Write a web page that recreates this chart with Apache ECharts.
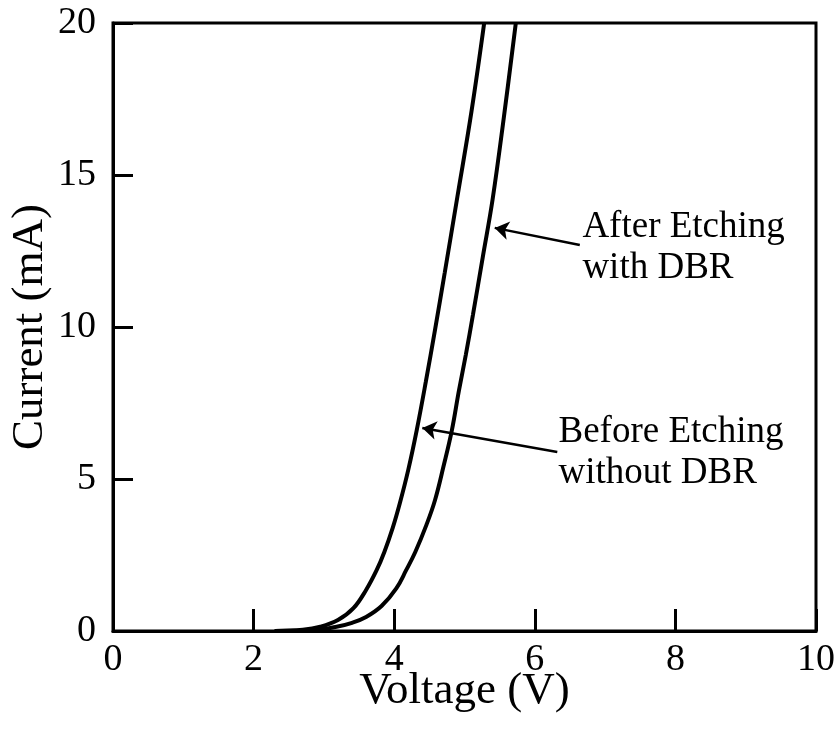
<!DOCTYPE html>
<html>
<head>
<meta charset="utf-8">
<script src="https://cdn.jsdelivr.net/npm/echarts@6/dist/echarts.min.js"></script>
<style>html,body{margin:0;padding:0;background:#fff}#c{width:840px;height:743px}</style>
</head>
<body>
<div id="c"></div>
<script>
// Before Etching (without DBR) - left curve
const beforeV = [2.3, 2.7, 2.95, 3.2, 3.42, 3.6, 3.75, 3.86, 3.98, 4.08, 4.2, 4.32, 4.45, 4.58, 4.72, 4.9, 5.1, 5.28];
const beforeI = [0, 0.04, 0.14, 0.36, 0.75, 1.35, 2.0, 2.6, 3.4, 4.2, 5.3, 6.6, 8.2, 9.9, 11.8, 14.3, 17.1, 20];
// After Etching (with DBR) - right curve
const afterV = [2.3, 2.9, 3.18, 3.4, 3.6, 3.82, 4.03, 4.17, 4.30, 4.46, 4.58, 4.7, 4.82, 4.92, 5.02, 5.12, 5.26, 5.40, 5.56, 5.73];
const afterI = [0, 0.04, 0.14, 0.27, 0.46, 0.82, 1.4, 2.0, 2.6, 3.5, 4.3, 5.4, 6.6, 7.9, 9.1, 10.4, 12.3, 14.2, 16.9, 20];

const xTicks = [0, 2, 4, 6, 8, 10];
const yTicks = [0, 5, 10, 15, 20];

const afterLabel = 'After Etching\nwith DBR';
const beforeLabel = 'Before Etching\nwithout DBR';
// arrow [tail, tip] and label anchor in data units
const afterArrow = [[6.64, 12.70], [5.43, 13.26]];
const beforeArrow = [[6.32, 5.89], [4.40, 6.68]];
const afterLabelPos = [6.67, 12.6];
const beforeLabelPos = [6.33, 5.86];

const font = 'Liberation Serif, Times New Roman, serif';
const zip = (a, b) => a.map((v, i) => [v, b[i]]);

const chart = echarts.init(document.getElementById('c'), null, {renderer: 'canvas'});
chart.setOption({
  animation: false,
  backgroundColor: '#fff',
  grid: {left: 113, right: 24, top: 23, bottom: 112, containLabel: false, outerBoundsMode: 'none',
    show: true, borderColor: '#000', borderWidth: 3, backgroundColor: 'transparent'},
  xAxis: {
    type: 'value', min: 0, max: 10, interval: 2,
    name: 'Voltage (V)', nameLocation: 'middle', nameGap: 38, nameMoveOverlap: false,
    nameTextStyle: {fontFamily: font, fontSize: 45, color: '#000'},
    axisLine: {show: true, lineStyle: {color: '#000', width: 3}},
    axisTick: {show: true, inside: true, length: 22, lineStyle: {color: '#000', width: 3}},
    axisLabel: {fontFamily: font, fontSize: 38, color: '#000', margin: 10},
    splitLine: {show: false}
  },
  yAxis: {
    type: 'value', min: 0, max: 20, interval: 5,
    name: 'Current (mA)', nameLocation: 'middle', nameGap: 60, nameMoveOverlap: false,
    nameTextStyle: {fontFamily: font, fontSize: 45, color: '#000'},
    axisLine: {show: true, lineStyle: {color: '#000', width: 3}},
    axisTick: {show: true, inside: true, length: 20, lineStyle: {color: '#000', width: 3}},
    axisLabel: {fontFamily: font, fontSize: 38, color: '#000', margin: 17},
    splitLine: {show: false}
  },
  series: [
    {
      type: 'line', name: 'Before Etching', data: zip(beforeV, beforeI), smooth: 0.4,
      showSymbol: false, lineStyle: {color: '#000', width: 4}, clip: true
    },
    {
      type: 'line', name: 'After Etching', data: zip(afterV, afterI), smooth: 0.4,
      showSymbol: false, lineStyle: {color: '#000', width: 4}, clip: true
    },
    {
      type: 'scatter', silent: true, symbolSize: 1, itemStyle: {color: 'rgba(0,0,0,0)', opacity: 1},
      data: [
        {value: afterLabelPos, label: {formatter: afterLabel}},
        {value: beforeLabelPos, label: {formatter: beforeLabel}}
      ],
      label: {show: true, position: 'right', distance: 0, align: 'left', verticalAlign: 'middle',
        fontFamily: font, fontSize: 37, lineHeight: 41, color: '#000', opacity: 1},
      markLine: {
        silent: true, symbol: ['none', 'arrow'], symbolSize: 14,
        lineStyle: {color: '#000', width: 2.5, type: 'solid', opacity: 1},
        itemStyle: {color: '#000'},
        label: {show: false},
        data: [
          [{coord: afterArrow[0]}, {coord: afterArrow[1]}],
          [{coord: beforeArrow[0]}, {coord: beforeArrow[1]}]
        ]
      }
    }
  ]
});
</script>
</body>
</html>
